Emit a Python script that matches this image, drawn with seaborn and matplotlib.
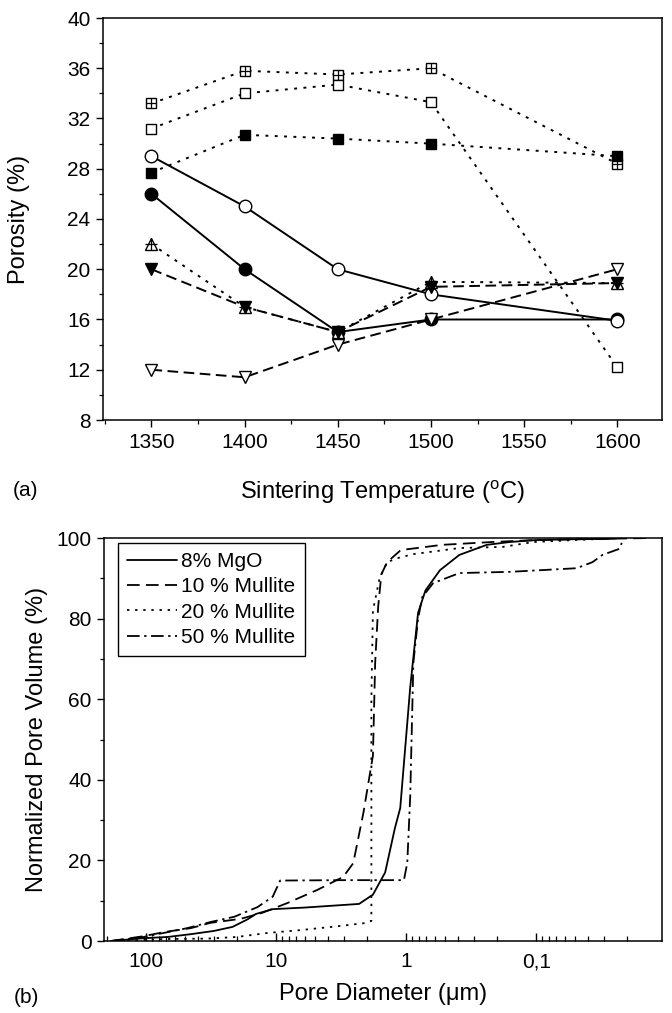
import numpy as np
import pandas as pd
import matplotlib
matplotlib.use("Agg")
import matplotlib.pyplot as plt
from matplotlib.ticker import MultipleLocator, FixedLocator, FixedFormatter, LogLocator, NullFormatter
import seaborn as sns

# ---------------- data: (a) porosity vs sintering temperature ----------------
temps = [1350, 1400, 1450, 1500, 1600]
por_crossed_sq = [33.2, 35.8, 35.5, 36.0, 28.4]
por_open_sq = [31.2, 34.0, 34.7, 33.3, 12.2]
por_filled_sq = [27.7, 30.7, 30.4, 30.0, 29.0]
por_filled_circ = [26.0, 20.0, 15.0, 16.0, 16.0]
por_open_circ = [29.0, 25.0, 20.0, 18.0, 15.9]
por_crossed_tri = [22.0, 17.0, 15.0, 19.0, 18.9]
por_filled_dtri = [20.0, 17.0, 15.0, 18.6, 18.9]
por_open_dtri = [12.0, 11.4, 14.0, 16.0, 20.0]

# ---------------- data: (b) cumulative pore size distribution ----------------
mgo_d = [185, 104, 68, 45, 30, 21.6, 16.5, 14.3, 10.6, 6.0, 2.3, 1.8, 1.45,
         1.22, 1.11, 0.93, 0.81, 0.71, 0.55, 0.39, 0.24, 0.16, 0.1, 0.05, 0.025]
mgo_v = [0, 0.7, 1.0, 1.7, 2.5, 3.5, 5.4, 6.7, 7.9, 8.3, 9.2, 11.5, 17,
         28, 33, 63, 81.4, 87, 92, 95.8, 98.3, 99.0, 99.5, 99.7, 99.8]

m10_d = [185, 104, 73, 45, 32, 18.7, 13, 8.2, 4.8, 3.05, 2.55, 2.13, 1.8,
         1.73, 1.64, 1.55, 1.4, 1.1, 0.53, 0.22, 0.1, 0.03, 0.013]
m10_v = [0, 1.2, 2.2, 3.2, 4.5, 5.5, 6.9, 9.4, 12.7, 15.9, 19.3, 31.8, 46,
         69, 83, 91, 94, 97, 98.3, 99.0, 99.5, 99.8, 100]

m20_d = [185, 68, 33.5, 20, 11.6, 6.5, 3.5, 2.0, 1.85, 1.85, 1.8, 1.6, 1.4,
         1.17, 0.88, 0.39, 0.18, 0.105, 0.05, 0.022]
m20_v = [0, 0.5, 0.6, 1.0, 2.0, 2.7, 3.6, 4.5, 5.0, 60, 82, 90, 94,
         95, 96, 97.5, 97.8, 99.0, 99.5, 100]

m50_d = [185, 104, 73, 48, 32, 21, 13.9, 10.6, 9.3, 3.0, 1.04, 0.98, 0.93,
         0.88, 0.81, 0.75, 0.62, 0.39, 0.16, 0.049, 0.037, 0.031, 0.023, 0.022]
m50_v = [0, 1.0, 2.0, 3.2, 4.7, 6.0, 8.4, 11, 15, 15.1, 15.1, 19.4, 36,
         69, 80, 85.4, 88.8, 91.3, 91.6, 92.5, 94, 95.8, 97.3, 98.8]

series_names = ["8% MgO", "10 % Mullite", "20 % Mullite", "50 % Mullite"]
diam_ticks = [100, 10, 1, 0.1]
diam_tick_labels = ["100", "10", "1", "0,1"]

# ---------------- style ----------------
sns.set_theme(style="ticks")
plt.rcParams["font.family"] = ["Liberation Sans", "DejaVu Sans"]
plt.rcParams["mathtext.fontset"] = "custom"
plt.rcParams["mathtext.rm"] = "Liberation Sans"
plt.rcParams["axes.edgecolor"] = "black"
plt.rcParams["axes.linewidth"] = 1.1
plt.rcParams["xtick.color"] = "black"
plt.rcParams["ytick.color"] = "black"
plt.rcParams["text.color"] = "black"
plt.rcParams["axes.labelcolor"] = "black"

TICK_FS = 15
LABEL_FS = 17

fig = plt.figure(figsize=(6.72, 10.13), dpi=100)
ax1 = fig.add_axes([103 / 672, 1 - 420 / 1013, 559 / 672, 402 / 1013])
ax2 = fig.add_axes([104 / 672, 1 - 941 / 1013, 558 / 672, 403 / 1013])

DOT = (0, (1.5, 3.3))
DASH = (0, (5.5, 2.8))
LW = 1.4


def porosity(ax, y, ls, marker, face, size, overlay=None):
    sns.lineplot(x=temps, y=y, ax=ax, color="black", linestyle=ls, linewidth=LW,
                 marker=marker, markersize=size, markerfacecolor=face,
                 markeredgecolor="black", markeredgewidth=1.0,
                 estimator=None, sort=False)
    if overlay:
        sns.lineplot(x=temps, y=y, ax=ax, color="black", linestyle="none",
                     marker="+", markersize=overlay, markeredgecolor="black",
                     markeredgewidth=0.9, estimator=None, sort=False)


porosity(ax1, por_crossed_sq, DOT, "s", "white", 7.5, overlay=7.5)
porosity(ax1, por_open_sq, DOT, "s", "white", 7.5)
porosity(ax1, por_filled_sq, DOT, "s", "black", 7.5)
porosity(ax1, por_filled_circ, "-", "o", "black", 9)
porosity(ax1, por_open_circ, "-", "o", "white", 9)
porosity(ax1, por_crossed_tri, DOT, "^", "white", 9, overlay=9)
porosity(ax1, por_filled_dtri, DASH, "v", "black", 9)
porosity(ax1, por_open_dtri, DASH, "v", "white", 9)

ax1.set_xlim(1324, 1624)
ax1.set_ylim(8, 40)
ax1.xaxis.set_major_locator(MultipleLocator(50))
ax1.xaxis.set_minor_locator(MultipleLocator(25))
ax1.yaxis.set_major_locator(MultipleLocator(4))
ax1.yaxis.set_minor_locator(MultipleLocator(2))
ax1.tick_params(which="major", direction="out", length=5, width=1.0, labelsize=TICK_FS, pad=4)
ax1.tick_params(which="minor", direction="out", length=3, width=0.9)
ax1.set_xlabel(r"Sintering Temperature ($^{\mathrm{o}}$C)", fontsize=LABEL_FS)
ax1.set_ylabel("Porosity (%)", fontsize=LABEL_FS)
ax1.xaxis.set_label_coords(0.5, -0.145)
ax1.yaxis.set_label_coords(-0.13, 0.5)
for s in ax1.spines.values():
    s.set_visible(True)

# ---------------- (b) ----------------
ax2.set_xscale("log")
curves = [(mgo_d, mgo_v, "-"),
          (m10_d, m10_v, (0, (7.0, 3.5))),
          (m20_d, m20_v, (0, (1.3, 3.2))),
          (m50_d, m50_v, (0, (7.0, 2.5, 1.3, 2.5)))]
for (d, v, ls), name in zip(curves, series_names):
    df = pd.DataFrame({"d": d, "v": v})
    sns.lineplot(data=df, x="d", y="v", ax=ax2, color="black", linestyle=ls,
                 linewidth=1.3, estimator=None, sort=False, label=name)

ax2.set_xlim(210, 0.0108)
ax2.set_ylim(0, 100)
ax2.xaxis.set_major_locator(FixedLocator(diam_ticks))
ax2.xaxis.set_major_formatter(FixedFormatter(diam_tick_labels))
ax2.xaxis.set_minor_locator(LogLocator(base=10, subs=np.arange(2, 10)))
ax2.xaxis.set_minor_formatter(NullFormatter())
ax2.yaxis.set_major_locator(MultipleLocator(20))
ax2.yaxis.set_minor_locator(MultipleLocator(10))
ax2.tick_params(axis="x", which="major", direction="in", length=6, width=1.0, labelsize=TICK_FS, pad=8)
ax2.tick_params(axis="x", which="minor", direction="in", length=3.5, width=0.9)
ax2.tick_params(axis="y", which="major", direction="out", length=5, width=1.0, labelsize=TICK_FS, pad=4)
ax2.tick_params(axis="y", which="minor", direction="out", length=3, width=0.9)
ax2.set_xlabel("Pore Diameter (μm)", fontsize=LABEL_FS)
ax2.set_ylabel("Normalized Pore Volume (%)", fontsize=LABEL_FS)
ax2.xaxis.set_label_coords(0.5, -0.105)
ax2.yaxis.set_label_coords(-0.1, 0.5)
for s in ax2.spines.values():
    s.set_visible(True)

leg = ax2.legend(loc="upper left", bbox_to_anchor=(0.025, 0.988), borderaxespad=0,
                 fontsize=TICK_FS, frameon=True, fancybox=False, handlelength=2.4,
                 handletextpad=0.2, labelspacing=0.3, borderpad=0.45)
leg.get_frame().set_edgecolor("black")
leg.get_frame().set_linewidth(1.0)
leg.get_frame().set_alpha(1)

fig.text(26 / 672, 1 - 490 / 1013, "(a)", fontsize=15, ha="center", va="center")
fig.text(26 / 672, 1 - 997 / 1013, "(b)", fontsize=15, ha="center", va="center")

fig.savefig("out.png", dpi=100, facecolor="white")
